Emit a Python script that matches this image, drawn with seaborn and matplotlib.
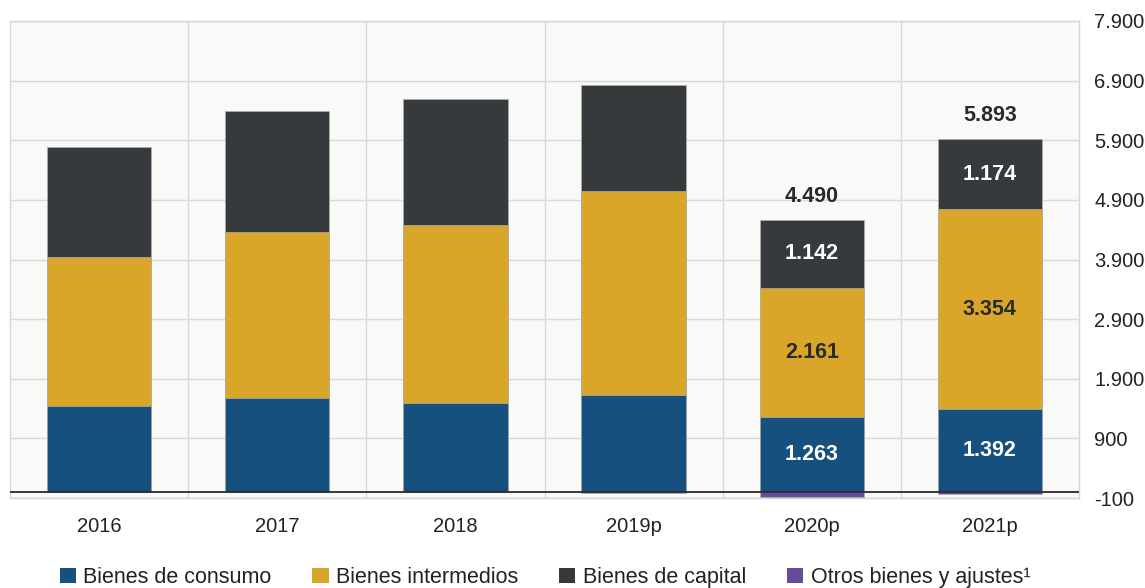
import numpy as np
import matplotlib.pyplot as plt
import seaborn as sns
from matplotlib.patches import Patch

years = ['2016', '2017', '2018', '2019p', '2020p', '2021p']
consumo = [1438, 1572, 1498, 1633, 1263, 1392]
intermedios = [2505, 2790, 2977, 3412, 2161, 3354]
capital = [1841, 2031, 2124, 1779, 1142, 1174]
otros = [0, 0, 0, -20, -76, -27]
labeled = [False, False, False, False, True, True]  # only the last two years carry value labels

series_names = ['Bienes de consumo', 'Bienes intermedios', 'Bienes de capital', 'Otros bienes y ajustes¹']
colors = ['#15507f', '#d9a629', '#363a3d', '#6a4a9c']

sns.set_style('white')
plt.rcParams['font.family'] = ['Liberation Sans', 'DejaVu Sans']

def fmt(v):
    return f"{int(round(v)):,}".replace(',', '.')

cons = np.array(consumo)
inter = np.array(intermedios)
cap = np.array(capital)
otr = np.array(otros)
top_cap = cons + inter + cap
top_inter = cons + inter
total = top_cap + otr

fig = plt.figure(figsize=(11.45, 5.88), dpi=100)
ax = fig.add_axes([10 / 1145, 90 / 588, 1069 / 1145, 477 / 588])
ax.set_facecolor('#f9f9f7')

bw = 0.585
# stacked by overlaying cumulative heights, tallest first
for vals, c in [(top_cap, colors[2]), (top_inter, colors[1]), (cons, colors[0]), (otr, colors[3])]:
    sns.barplot(x=years, y=vals, color=c, width=bw, saturation=1, ax=ax,
                edgecolor='#b0b0b0', linewidth=0.5, zorder=3)

ax.axhline(0, color='#2a2a2a', lw=1.3, zorder=4)

# value labels
for i, yr in enumerate(years):
    if not labeled[i]:
        continue
    ax.text(i, cons[i] / 2, fmt(cons[i]), ha='center', va='center', color='white',
            fontsize=15.5, fontweight='bold', zorder=5)
    ax.text(i, cons[i] + inter[i] / 2, fmt(inter[i]), ha='center', va='center', color='#2a2a2a',
            fontsize=15.5, fontweight='bold', zorder=5)
    ax.text(i, top_inter[i] + cap[i] / 2, fmt(cap[i]), ha='center', va='center', color='white',
            fontsize=15.5, fontweight='bold', zorder=5)
    ax.text(i, top_cap[i] + 220, fmt(total[i]), ha='center', va='bottom', color='#2a2a2a',
            fontsize=15.5, fontweight='bold', zorder=5)

ax.set_xlim(-0.5, len(years) - 0.5)
ax.set_ylim(-100, 7900)
yt = np.arange(-100, 8000, 1000)
ax.set_yticks(yt)
ax.set_yticklabels([fmt(v) for v in yt])
ax.yaxis.tick_right()
ax.tick_params(axis='y', length=0, pad=11, labelsize=14.5, labelcolor='#222222')
ax.tick_params(axis='x', which='major', length=0, pad=14, labelsize=14.5, labelcolor='#222222')
ax.set_xticks(np.arange(0.5, len(years) - 0.5), minor=True)
ax.tick_params(axis='x', which='minor', direction='inout', length=12, width=1.2, color='#333333')
ax.grid(axis='y', color='#d9d9d9', lw=1, zorder=0)
ax.grid(axis='x', which='minor', color='#d9d9d9', lw=1, zorder=0)
ax.grid(axis='x', which='major', visible=False)
ax.set_axisbelow(True)
ax.set_xlabel('')
ax.set_ylabel('')
for s in ax.spines.values():
    s.set_color('#d6d6d6')
    s.set_linewidth(1)

handles = [Patch(facecolor=c, edgecolor='none', label=n) for c, n in zip(colors, series_names)]
fig.legend(handles=handles, loc='lower center', bbox_to_anchor=(0.476, -0.033), ncol=4, frameon=False,
           fontsize=15.5, handlelength=0.75, handleheight=0.75, handletextpad=0.35, columnspacing=1.9,
           labelcolor='#222222')

fig.savefig('out.png', dpi=100, facecolor='white')
